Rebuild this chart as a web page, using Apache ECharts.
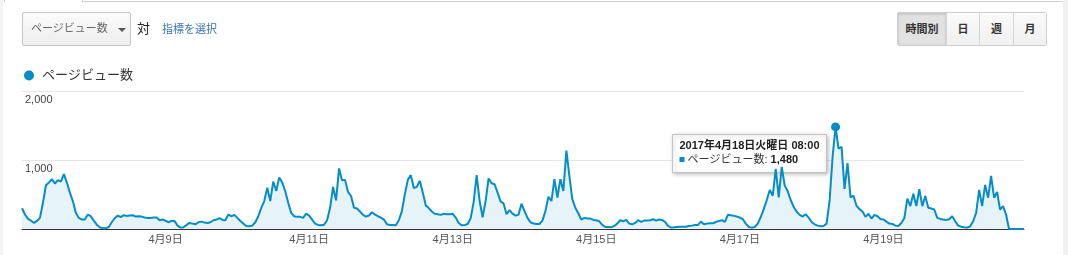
<!DOCTYPE html>
<html><head><meta charset="utf-8">
<script src="https://cdn.jsdelivr.net/npm/echarts@6/dist/echarts.min.js"></script>
<style>
html,body{margin:0;padding:0;background:#fff;}
body{width:1068px;height:255px;position:relative;overflow:hidden;font-family:"Liberation Sans",Arial,"Noto Sans CJK JP",sans-serif;}
#chart{position:absolute;left:0;top:0;width:1068px;height:255px;}
.ov{position:absolute;z-index:5;white-space:nowrap;}
.dd{left:22px;top:12px;width:107px;height:32px;border:1px solid #c6c6c6;border-radius:2px;background:linear-gradient(#fbfbfb,#eeeeee);font-size:11px;color:#666;line-height:32px;padding-left:0;}
.dd span.t{position:absolute;left:8px;top:-1px;}
.dd span.c{position:absolute;left:95px;top:15px;width:0;height:0;border-left:4px solid transparent;border-right:4px solid transparent;border-top:4px solid #555;}
.vs{left:137px;top:18px;font-size:13px;color:#222;}
.lk{left:162px;top:20px;font-size:11px;color:#3b78b3;}
.btns{left:897px;top:12px;height:34px;display:flex;border:1px solid #cfcfcf;border-radius:2px;box-sizing:border-box;}
.btns div{height:32px;line-height:32px;text-align:center;font-size:11px;color:#333;font-weight:bold;background:linear-gradient(#fafafa,#f0f0f0);border-left:1px solid #d6d6d6;}
.btns div:first-child{border-left:none;background:#e2e2e2;box-shadow:inset 0 1px 3px rgba(0,0,0,0.18);}
.frame-top{left:82px;top:1px;width:981px;height:1px;background:#cfcfcf;}
.frame-l1{left:4px;top:0;width:1px;height:2px;background:#cfcfcf;}
.frame-l2{left:82px;top:0;width:1px;height:2px;background:#cfcfcf;}
.frame-r{left:1063px;top:0;width:5px;height:255px;background:#f0f0f0;}
.frame-left{left:0;top:0;width:3px;height:255px;background:#f4f4f4;}
</style>
</head><body>
<div id="chart"></div>
<div class="ov frame-left"></div>
<div class="ov frame-top"></div>
<div class="ov frame-l1"></div>
<div class="ov frame-l2"></div>
<div class="ov frame-r"></div>
<div class="ov dd"><span class="t">ページビュー数</span><span class="c"></span></div>
<div class="ov vs">対</div>
<div class="ov lk">指標を選択</div>
<div class="ov btns"><div style="width:48px">時間別</div><div style="width:32px">日</div><div style="width:33px">週</div><div style="width:32px">月</div></div>
<script>
// Hourly page views, 2017-04-07 .. 2017-04-20 (24 values per day)
const apr07 = [300,210,146,122,88,117,161,380,634,673,722,659,708,688,795,673,527,405,234,161,137,137,210,185];
const apr08 = [122,63,24,10,10,29,98,156,195,171,200,190,195,200,180,185,180,166,161,161,166,166,127,137];
const apr09 = [120,98,117,117,49,20,24,59,88,78,68,98,107,93,88,98,127,137,156,132,127,210,185,205];
const apr10 = [161,117,78,44,39,49,98,185,307,405,600,405,688,551,747,673,551,380,234,185,176,176,161,224];
const apr11 = [195,137,78,59,54,63,127,307,610,415,878,708,712,537,478,307,298,254,205,180,195,244,210,185];
const apr12 = [166,137,68,59,59,54,127,259,503,712,781,595,610,698,527,342,303,254,220,215,205,220,215,215];
const apr13 = [220,166,88,54,59,73,156,390,781,405,171,405,732,664,649,527,400,371,215,273,224,195,205,366];
const apr14 = [259,161,98,78,73,73,122,259,468,405,722,454,722,551,1137,771,429,307,224,137,161,151,151,132];
const apr15 = [127,112,59,29,29,24,44,78,127,112,132,78,68,88,127,102,122,122,127,142,122,137,132,102];
const apr16 = [44,20,24,29,34,34,34,44,49,59,59,107,68,78,83,83,102,117,127,102,205,200,190,180];
const apr17 = [166,142,78,29,20,29,78,176,288,420,566,483,870,459,900,629,546,420,322,249,205,180,215,166];
const apr18 = [102,68,49,39,44,78,410,1044,1480,1166,1190,581,956,459,483,337,288,254,176,220,151,205,185,146];
const apr19 = [137,107,78,73,49,44,88,161,439,332,512,332,576,332,478,307,298,283,161,146,137,132,142,185];
const apr20 = [112,49,34,24,20,39,112,234,566,332,639,454,771,454,537,283,332,210,0,0,0,0,0,0];

const days = [7,8,9,10,11,12,13,14,15,16,17,18,19,20];
const weekdays = ['日曜日','月曜日','火曜日','水曜日','木曜日','金曜日','土曜日'];
const seriesName = 'ページビュー数';
const highlightIndex = 272; // 2017-04-18 08:00

const values = [].concat(apr07,apr08,apr09,apr10,apr11,apr12,apr13,apr14,apr15,apr16,apr17,apr18,apr19,apr20);
const categories = [];
days.forEach(d => {
  const wd = weekdays[new Date(2017, 3, d).getDay()];
  for (let h = 0; h < 24; h++) {
    categories.push('2017年4月' + d + '日' + wd + ' ' + String(h).padStart(2,'0') + ':00');
  }
});

const FONT = '"Liberation Sans", Arial, "Noto Sans CJK JP", sans-serif';
const BLUE = '#058DC7';
const fmt = v => v.toLocaleString('en-US');

const chart = echarts.init(document.getElementById('chart'), null, {renderer:'canvas'});
chart.setOption({
  animation: false,
  textStyle: {fontFamily: FONT},
  legend: {
    left: 19, top: 64, icon: 'circle', itemWidth: 16, itemHeight: 10,
    selectedMode: false, data: [seriesName],
    textStyle: {fontSize: 13, color: '#333', fontFamily: FONT}
  },
  grid: {left: 22, right: 44, top: 91, bottom: 26},
  xAxis: {
    type: 'category', data: categories, boundaryGap: false,
    axisLine: {lineStyle: {color: '#333', width: 1}},
    axisTick: {show: false},
    splitLine: {show: false},
    axisLabel: {
      interval: i => i > 0 && i % 48 === 0,
      formatter: v => (v.match(/(\d+月\d+日)/) || ['',''])[1],
      fontSize: 11, color: '#555', margin: 5, fontFamily: FONT
    }
  },
  yAxis: {
    type: 'value', min: 0, max: 2000, interval: 1000,
    axisLine: {show: false}, axisTick: {show: false},
    splitLine: {lineStyle: {color: '#e6e6e6'}},
    axisLabel: {
      inside: true, verticalAlign: 'top', margin: 3, padding: [3,0,0,0],
      fontSize: 11, color: '#444', fontFamily: FONT,
      formatter: v => v === 0 ? '' : fmt(v)
    }
  },
  series: [{
    name: seriesName, type: 'line', data: values, showSymbol: false,
    color: BLUE,
    lineStyle: {color: BLUE, width: 2},
    itemStyle: {color: BLUE},
    areaStyle: {color: '#e6f3f9', opacity: 1},
    markPoint: {
      symbol: 'circle', symbolSize: 9,
      itemStyle: {color: BLUE},
      label: {show: false},
      data: [{coord: [highlightIndex, values[highlightIndex]]}]
    }
  }]
});

// static tooltip anchored to the highlighted point
const p = chart.convertToPixel({seriesIndex: 0}, [highlightIndex, values[highlightIndex]]);
const bw = 154, bh = 38;
const bx = Math.round(p[0] - 10 - bw), by = Math.round(p[1] + 7);
chart.setOption({
  graphic: [{
    type: 'group', z: 100, left: bx, top: by,
    children: [
      {type: 'rect', shape: {x: 0, y: 0, width: bw, height: bh},
       style: {fill: '#fff', stroke: '#c4c4c4', lineWidth: 1, shadowBlur: 4, shadowColor: 'rgba(0,0,0,0.25)', shadowOffsetX: 1, shadowOffsetY: 1}},
      {type: 'text', x: 7, y: 11,
       style: {text: categories[highlightIndex], fontFamily: FONT, fontSize: 11, fontWeight: 'bold', fill: '#222', verticalAlign: 'middle'}},
      {type: 'rect', shape: {x: 7, y: 22.5, width: 5, height: 5}, style: {fill: BLUE}},
      {type: 'text', x: 15, y: 25,
       style: {
         text: '{n|' + seriesName + ': }{v|' + fmt(values[highlightIndex]) + '}',
         verticalAlign: 'middle',
         rich: {
           n: {fontFamily: FONT, fontSize: 11, fill: '#333'},
           v: {fontFamily: FONT, fontSize: 11, fontWeight: 'bold', fill: '#222'}
         }
       }}
    ]
  }]
});
</script>
</body></html>
